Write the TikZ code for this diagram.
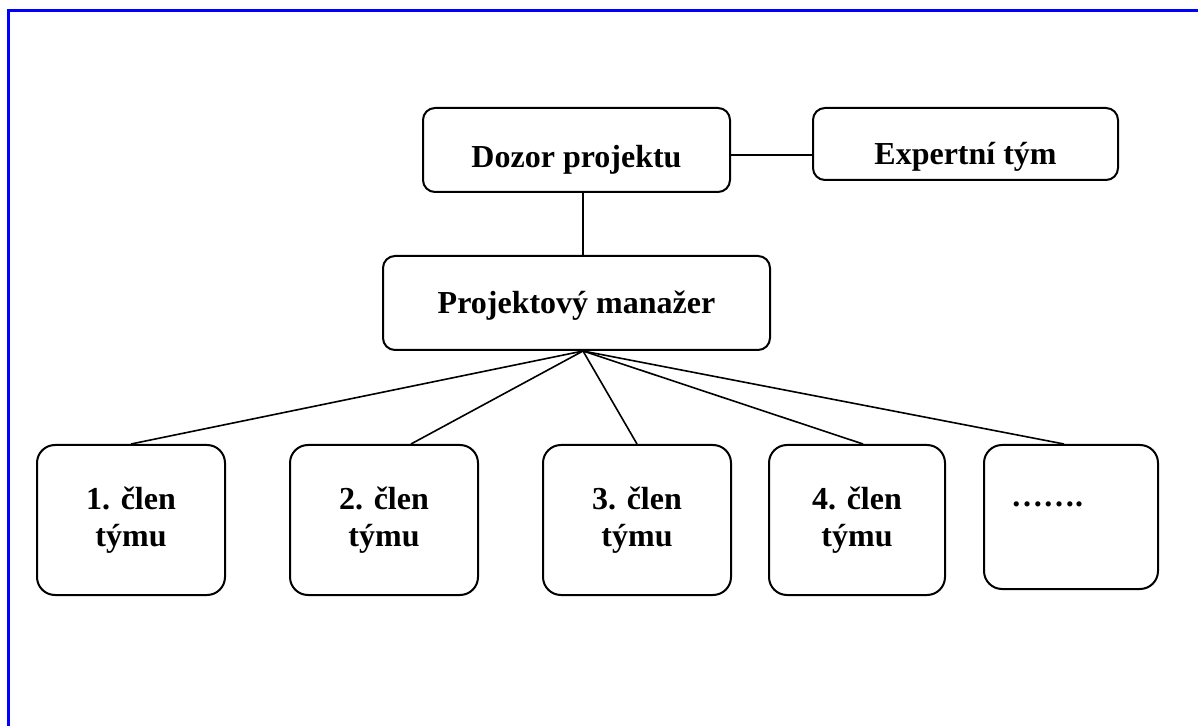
\documentclass[tikz,border=0pt]{standalone}
\usepackage{fontspec}
\setmainfont{Liberation Serif}
\usetikzlibrary{positioning}

\begin{document}
\begin{tikzpicture}[
    every node/.style={font=\bfseries\fontsize{16}{18.5}\selectfont},
    box/.style={draw, line width=1pt, rounded corners=6pt, align=center, inner sep=2pt},
    member/.style={draw, line width=1pt, rounded corners=9pt, align=center, minimum width=94pt, minimum height=75pt},
    link/.style={line width=0.8pt},
    frame/.style={draw=blue, line width=1.5pt}
]
\useasboundingbox (0,0) rectangle (599pt,-363pt);
\draw[frame] (599pt,-5.5pt) -- (4pt,-5.5pt) -- (4pt,-363pt);

\node[box, minimum width=153.5pt, minimum height=42pt, text height=22pt, text depth=4pt] (dozor) at (288.25pt,-75pt) {Dozor projektu};
\node[box, minimum width=152.5pt, minimum height=36pt, text height=25pt, text depth=4pt, right=40.5pt of dozor.north east, anchor=north west] (expert) {Expertní tým};
\node[box, minimum width=193.5pt, minimum height=47pt, text height=11pt, text depth=0pt, below=31pt of dozor] (manager) {Projektový manažer};

\node[member, anchor=north west] (m1) at (18pt,-222pt) {1. člen\\týmu};
\node[member, right=31.5pt of m1.north east, anchor=north west] (m2) {2. člen\\týmu};
\node[member, right=31.5pt of m2.north east, anchor=north west] (m3) {3. člen\\týmu};
\node[member, minimum width=88pt, right=18pt of m3.north east, anchor=north west] (m4) {4. člen\\týmu};
\node[member, minimum width=87pt, minimum height=72pt, text width=60pt, align=left, text height=2pt, text depth=12pt, right=18.5pt of m4.north east, anchor=north west] (m5) {…….};

\coordinate (tie) at ([yshift=-2.5pt]dozor.east);
\coordinate (hub) at ([xshift=3.25pt]manager.south);
\draw[link] (tie) -- (tie -| expert.west);
\draw[link] (dozor.south -| hub) -- (manager.north -| hub);
\draw[link] (hub) -- (m1.north);
\draw[link] (hub) -- ([xshift=13.5pt]m2.north);
\draw[link] (hub) -- (m3.north);
\draw[link] (hub) -- ([xshift=3pt]m4.north);
\draw[link] (hub) -- ([xshift=-3.5pt]m5.north);
\end{tikzpicture}
\end{document}
